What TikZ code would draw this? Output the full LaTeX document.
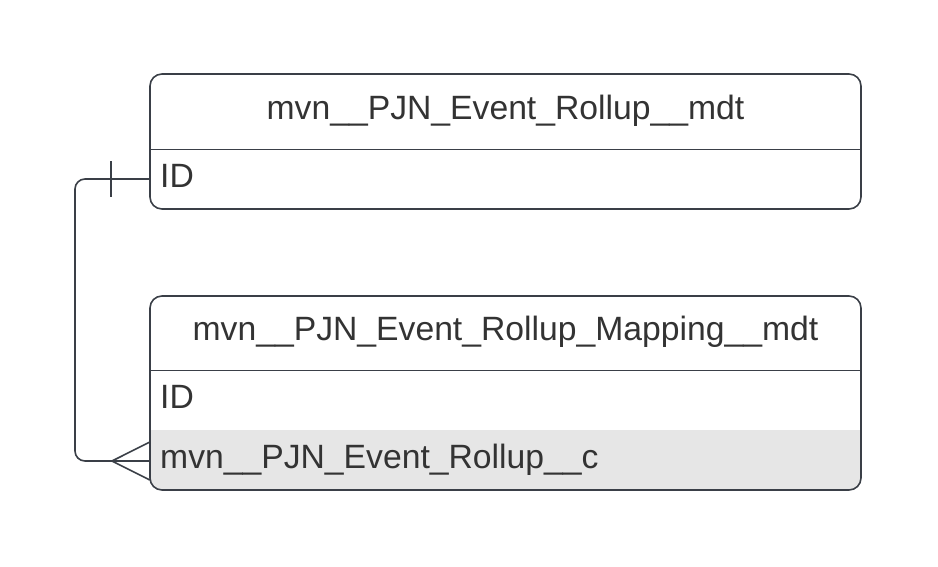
\documentclass[tikz,border=0pt]{standalone}
\usepackage{fontspec}
\setmainfont{Liberation Sans}
\definecolor{lineC}{HTML}{3A3F47}
\definecolor{txtC}{HTML}{333333}
\definecolor{shadeC}{HTML}{E6E6E6}
\tikzset{
  frame/.style={draw=lineC, line width=1.6pt, rounded corners=12pt, inner sep=0pt},
  rowbox/.style={inner sep=0pt, minimum width=711pt, minimum height=60pt},
  lbl/.style={text=txtC, inner sep=0pt, font=\fontsize{33.7}{40}\selectfont},
  sep/.style={draw=lineC, line width=1pt},
  conn/.style={draw=lineC, line width=1.6pt},
}
\begin{document}
\begin{tikzpicture}[x=1pt,y=-1pt]
\useasboundingbox (0,0) rectangle (938,566);
% table 1
\node[rowbox] (r11) at (505.5,179) {};
\node[lbl, anchor=base] (h1) at (505.5,119) {mvn\_\_PJN\_Event\_Rollup\_\_mdt};
\node[lbl, anchor=base west] (id1) at (160,187) {ID};
\draw[sep] (150,149) -- (861,149);
\draw[frame] (150,74) rectangle (861,209);
% table 2
\node[rowbox] (r21) at (505.5,400) {};
\node[rowbox] (r22) at (505.5,460) {};
\begin{scope}
  \clip[rounded corners=12pt] (150,296) rectangle (861,490);
  \fill[shadeC] (r22.north west) rectangle (r22.south east);
\end{scope}
\node[lbl, anchor=base] (h2) at (505.5,340) {mvn\_\_PJN\_Event\_Rollup\_Mapping\_\_mdt};
\node[lbl, anchor=base west] (id2) at (160,408) {ID};
\node[lbl, anchor=base west] (fk) at (160,468) {mvn\_\_PJN\_Event\_Rollup\_\_c};
\draw[sep] (150,370) -- (861,370);
\draw[frame] (150,296) rectangle (861,490);
% connector
\coordinate (bendA) at (75,179);
\coordinate (bendB) at (75,461);
\coordinate (foot) at (112,461);
\draw[conn, rounded corners=10pt] (r11.west) -- (bendA) -- (bendB) -- (r22.west |- bendB);
\draw[conn] (111,161) -- (111,197);
\draw[conn] (r22.west |- 0,442) -- (foot) -- (r22.west |- 0,480);
\end{tikzpicture}
\end{document}
